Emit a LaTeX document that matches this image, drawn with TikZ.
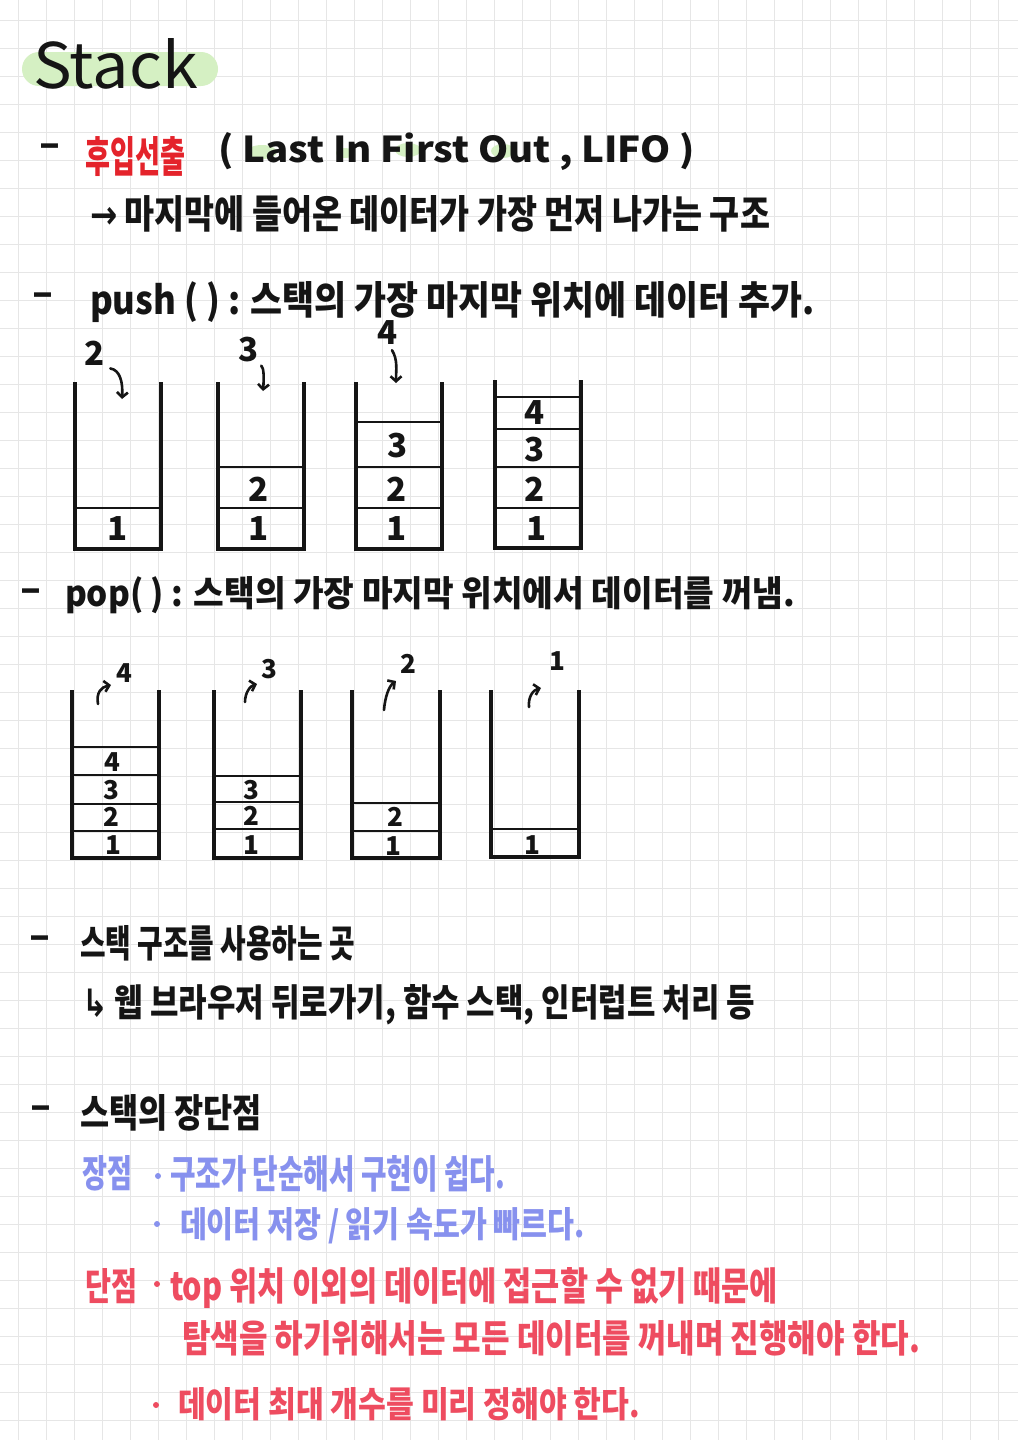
\documentclass[tikz,border=0pt]{standalone}
\usepackage{graphicx}
\usepackage{fontspec}
\newfontfamily\kr{Noto Sans CJK KR}
\newfontfamily\dv{DejaVu Sans}
\usetikzlibrary{arrows.meta}
\definecolor{ink}{HTML}{151515}
\definecolor{gridc}{HTML}{E6E6E6}
\definecolor{hlgreen}{HTML}{D5F0C3}
\definecolor{redtitle}{HTML}{E4232B}
\definecolor{blueink}{HTML}{8791EE}
\definecolor{pinkink}{HTML}{EE4C60}
\newcommand{\fit}[3]{\resizebox{#1pt}{#2pt}{#3}}
\newcommand{\stackwalls}[4]{\draw[wall] (#1,#2) -- (#1,#4) -- (#3,#4) -- (#3,#2);}
\newcommand{\stackdiv}[3]{\draw[divl] (#1,#3) -- (#2,#3);}
\begin{document}
\begin{tikzpicture}[x=1pt,y=-1pt,
  gridline/.style={draw=gridc, line width=1pt},
  hl/.style={fill=hlgreen},
  txt/.style={anchor=base west, inner sep=0pt, outer sep=0pt, text=ink, font=\kr\bfseries\fontsize{30}{36}\selectfont},
  dashmark/.style={anchor=center, inner sep=0pt, text=ink, font=\kr\bfseries\fontsize{30}{36}\selectfont},
  digit/.style={anchor=center, inner sep=0pt, text=ink, font=\kr\bfseries\fontsize{33}{33}\selectfont},
  smalldigit/.style={anchor=center, inner sep=0pt, text=ink, font=\kr\bfseries\fontsize{26}{26}\selectfont},
  wall/.style={draw=ink, line width=3.2pt, line join=miter},
  divl/.style={draw=ink, line width=2.8pt},
  parrow/.style={draw=ink, line width=2.6pt, line cap=round, -{Straight Barb[length=5pt,width=11pt,line width=2.6pt]}},
  bullet/.style={circle, inner sep=0pt, minimum size=6pt},
]
\useasboundingbox (0,0) rectangle (1018,1440);
\fill[white] (0,0) rectangle (1018,1440);
\foreach \i in {0,...,35} \draw[gridline] ({18.7+28*\i},0) -- ({18.7+28*\i},1440);
\foreach \j in {0,...,50} \draw[gridline] (0,{20.7+28*\j}) -- (1018,{20.7+28*\j});

% highlights
\fill[hl, rounded corners=17pt] (22,52) rectangle (218,86);
\fill[hl] (262,152) ellipse [x radius=15pt, y radius=7pt];
\fill[hl] (345,153) ellipse [x radius=9pt, y radius=5pt];
\fill[hl] (408,150) ellipse [x radius=13pt, y radius=7pt];
\fill[hl] (503,151) ellipse [x radius=12pt, y radius=7pt];

% title
\node[txt, font=\kr\fontsize{30}{36}\selectfont] (title) at (33,88) {\fit{165}{50}{Stack}};

% LIFO line
\node[dashmark] (d1) at (50,150) {\scalebox{2}[1.2]{-}};
\node[txt, text=redtitle] (lifo) at (85,172) {\fit{100}{36}{후입선출}};
\node[txt] (lifoen) at (218,162) {\fit{477}{30}{( Last In First Out , LIFO )}};
\node[txt] (lifodesc) at (90,228) {\fit{680}{33}{{\dv →} 마지막에 들어온 데이터가 가장 먼저 나가는 구조}};

% push line
\node[dashmark] (d2) at (43,299) {\scalebox{2}[1.2]{-}};
\node[txt] (push) at (90,314) {\fit{725}{33}{push ( ) : 스택의 가장 마지막 위치에 데이터 추가.}};

% push stacks
\stackwalls{75}{382}{161}{549}
\stackdiv{75}{161}{508}
\node[digit] (a1) at (118,529) {1};

\stackwalls{218}{382}{304}{549}
\stackdiv{218}{304}{467}
\stackdiv{218}{304}{508}
\node[digit] (b2) at (259,489) {2};
\node[digit] (b1) at (259,529) {1};

\stackwalls{356}{382}{442}{549}
\stackdiv{356}{442}{422}
\stackdiv{356}{442}{467}
\stackdiv{356}{442}{508}
\node[digit] (c3) at (398,446) {3};
\node[digit] (c2) at (397,489) {2};
\node[digit] (c1) at (397,529) {1};

\stackwalls{495}{380}{581}{548}
\stackdiv{495}{581}{397}
\stackdiv{495}{581}{429}
\stackdiv{495}{581}{467}
\stackdiv{495}{581}{508}
\node[digit] (e4) at (535,413) {4};
\node[digit] (e3) at (535,450) {3};
\node[digit] (e2) at (535,489) {2};
\node[digit] (e1) at (537,529) {1};

% push labels and arrows
\node[digit] (pl1) at (95,353) {2};
\coordinate (pt1) at (122,399);
\draw[parrow] (pl1.south east) ++(5,3) .. controls (120,370) and (123,382) .. (pt1);
\node[digit] (pl2) at (249,350) {3};
\coordinate (pt2) at (263,391);
\draw[parrow] (pl2.south east) ++(2,3) .. controls (264,368) and (264,378) .. (pt2);
\node[digit] (pl3) at (388,333) {4};
\coordinate (pt3) at (396,383);
\draw[parrow] (pl3.south) ++(4,5) .. controls (398,360) and (396,370) .. (pt3);

% pop line
\node[dashmark] (d3) at (31,595) {\scalebox{2}[1.2]{-}};
\node[txt] (pop) at (65,606) {\fit{730}{30}{pop( ) : 스택의 가장 마지막 위치에서 데이터를 꺼냄.}};

% pop stacks
\stackwalls{72}{690}{159}{858}
\stackdiv{72}{159}{747}
\stackdiv{72}{159}{775}
\stackdiv{72}{159}{804}
\stackdiv{72}{159}{831}
\node[smalldigit] (f4) at (112,762) {4};
\node[smalldigit] (f3) at (111,790) {3};
\node[smalldigit] (f2) at (111,817) {2};
\node[smalldigit] (f1) at (113,845) {1};

\stackwalls{214}{690}{301}{858}
\stackdiv{214}{301}{776}
\stackdiv{214}{301}{802}
\stackdiv{214}{301}{829}
\node[smalldigit] (g3) at (251,790) {3};
\node[smalldigit] (g2) at (251,816) {2};
\node[smalldigit] (g1) at (251,845) {1};

\stackwalls{352}{690}{440}{858}
\stackdiv{352}{440}{803}
\stackdiv{352}{440}{831}
\node[smalldigit] (h2) at (395,817) {2};
\node[smalldigit] (h1) at (393,846) {1};

\stackwalls{491}{690}{579}{857}
\stackdiv{491}{579}{829}
\node[smalldigit] (k1) at (532,845) {1};

% pop labels and arrows
\node[smalldigit] (ql1) at (124,673) {4};
\coordinate (qs1) at (98,704);
\coordinate (qe1) at (111,685);
\draw[parrow] (qs1) .. controls (96,693) and (101,687) .. (qe1);
\node[smalldigit] (ql2) at (269,669) {3};
\coordinate (qs2) at (245,702);
\coordinate (qe2) at (257,684);
\draw[parrow] (qs2) .. controls (245,693) and (250,686) .. (qe2);
\node[smalldigit] (ql3) at (408,664) {2};
\coordinate (qs3) at (384,710);
\coordinate (qe3) at (396,681);
\draw[parrow] (qs3) .. controls (385,697) and (389,686) .. (qe3);
\node[smalldigit] (ql4) at (557,661) {1};
\coordinate (qs4) at (529,707);
\coordinate (qe4) at (541,688);
\draw[parrow] (qs4) .. controls (528,697) and (533,690) .. (qe4);

% usage
\node[dashmark] (d4) at (40,942) {\scalebox{2}[1.2]{-}};
\node[txt] (use) at (80,957) {\fit{275}{32}{스택 구조를 사용하는 곳}};
\node[txt] (usex) at (82,1016) {\fit{673}{32}{{\dv ↳} 웹 브라우저 뒤로가기, 함수 스택, 인터럽트 처리 등}};

% pros and cons
\node[dashmark] (d5) at (41,1112) {\scalebox{2}[1.2]{-}};
\node[txt] (pc) at (80,1127) {\fit{182}{33}{스택의 장단점}};

\node[txt, text=blueink] (pro) at (82,1187) {\fit{50}{32}{장점}};
\node[bullet, fill=blueink] (b1) at (158,1176) {};
\node[txt, text=blueink] (pro1) at (170,1188) {\fit{335}{33}{구조가 단순해서 구현이 쉽다.}};
\node[bullet, fill=blueink] (b2) at (157,1224) {};
\node[txt, text=blueink] (pro2) at (180,1237) {\fit{405}{30}{데이터 저장 / 읽기 속도가 빠르다.}};

\node[txt, text=pinkink] (con) at (85,1300) {\fit{52}{32}{단점}};
\node[bullet, fill=pinkink] (b3) at (157,1284) {};
\node[txt, text=pinkink] (con1) at (170,1300) {\fit{608}{33}{top 위치 이외의 데이터에 접근할 수 없기 때문에}};
\node[txt, text=pinkink] (con1b) at (182,1352) {\fit{738}{32}{탐색을 하기위해서는 모든 데이터를 꺼내며 진행해야 한다.}};
\node[bullet, fill=pinkink] (b4) at (156,1405) {};
\node[txt, text=pinkink] (con2) at (178,1417) {\fit{462}{30}{데이터 최대 개수를 미리 정해야 한다.}};
\end{tikzpicture}
\end{document}
